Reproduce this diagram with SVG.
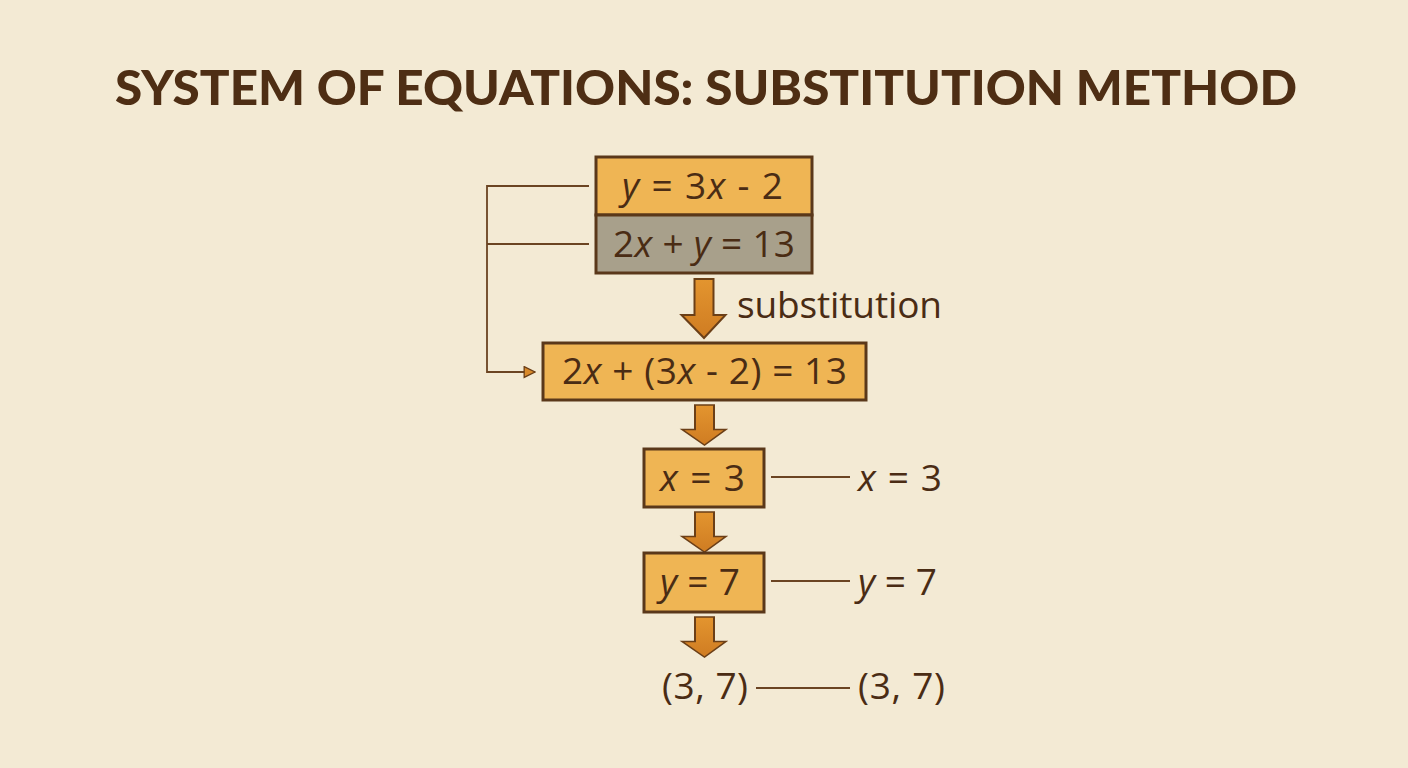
<svg xmlns="http://www.w3.org/2000/svg" width="1408" height="768" viewBox="0 0 1408 768">
<defs>
<linearGradient id="arrowGrad" x1="0" y1="0" x2="0" y2="1">
<stop offset="0" stop-color="#e3952f"/>
<stop offset="1" stop-color="#cf7c22"/>
</linearGradient>
<marker id="tri" viewBox="0 0 12 12" refX="11" refY="6" markerWidth="13" markerHeight="13" markerUnits="userSpaceOnUse" orient="auto">
<path d="M1,1 L11,6 L1,11 Z" fill="#d98a2a" stroke="#6b3f17" stroke-width="1.2"/>
</marker>
<path id="blockArrow" d="M-9,0 H10 V36 H22 L0.5,59 L-22,36 H-9 Z"/>
</defs>
<style>
.bg{fill:#f3ead4}
.box{fill:#efb554;stroke:#5a381a;stroke-width:3}
.gray{fill:#a8a08b;stroke:#5a381a;stroke-width:3}
.t{font-family:"Open Sans","Liberation Sans",sans-serif;font-weight:500;font-size:37px;fill:#4a2c14}
.v{font-style:italic}
.title{font-family:"Lato","Liberation Sans",sans-serif;font-weight:900;font-size:48px;fill:#4e2e14}
.line{fill:none;stroke:#6b4422;stroke-width:1.8}
.barrow{fill:url(#arrowGrad);stroke:#6b3f17;stroke-width:2;stroke-linejoin:miter}
</style>
<rect class="bg" x="0" y="0" width="1408" height="768"/>
<text class="title" x="115" y="105" textLength="1182" lengthAdjust="spacingAndGlyphs">SYSTEM OF EQUATIONS: SUBSTITUTION METHOD</text>

<g id="connectors">
<path class="line" d="M589,186 H487 V372 H535" marker-end="url(#tri)"/>
<path class="line" d="M589,244 H487"/>
<path class="line" d="M771,477 H850"/>
<path class="line" d="M771,581 H850"/>
<path class="line" d="M756,688 H850"/>
<use href="#blockArrow" class="barrow" transform="translate(703.5,279)"/>
<use href="#blockArrow" class="barrow" transform="translate(704,405) scale(1,0.68)"/>
<use href="#blockArrow" class="barrow" transform="translate(704,512) scale(1,0.68)"/>
<use href="#blockArrow" class="barrow" transform="translate(704,617) scale(1,0.68)"/>
<text class="t" x="737" y="318" textLength="205">substitution</text>
</g>

<g id="system">
<rect class="box" x="596" y="157" width="216" height="58"/>
<rect class="gray" x="596" y="215" width="216" height="58"/>
<text class="t" x="622" y="199" textLength="161"><tspan class="v">y</tspan> = 3<tspan class="v">x</tspan> - 2</text>
<text class="t" x="613" y="257" textLength="182">2<tspan class="v">x</tspan> + <tspan class="v">y</tspan> = 13</text>
</g>

<g id="substituted">
<rect class="box" x="543" y="343" width="323" height="57"/>
<text class="t" x="562" y="384" textLength="285">2<tspan class="v">x</tspan> + (3<tspan class="v">x</tspan> - 2) = 13</text>
</g>

<g id="xval">
<rect class="box" x="644" y="449" width="120" height="58"/>
<text class="t" x="660" y="491" textLength="85"><tspan class="v">x</tspan> = 3</text>
<text class="t" x="858" y="491" textLength="84"><tspan class="v">x</tspan> = 3</text>
</g>

<g id="yval">
<rect class="box" x="644" y="553" width="120" height="59"/>
<text class="t" x="660" y="595" textLength="80"><tspan class="v">y</tspan> = 7</text>
<text class="t" x="858" y="595" textLength="79"><tspan class="v">y</tspan> = 7</text>
</g>

<g id="solution">
<text class="t" x="662" y="699" textLength="86">(3, 7)</text>
<text class="t" x="858" y="699" textLength="87">(3, 7)</text>
</g>
</svg>
